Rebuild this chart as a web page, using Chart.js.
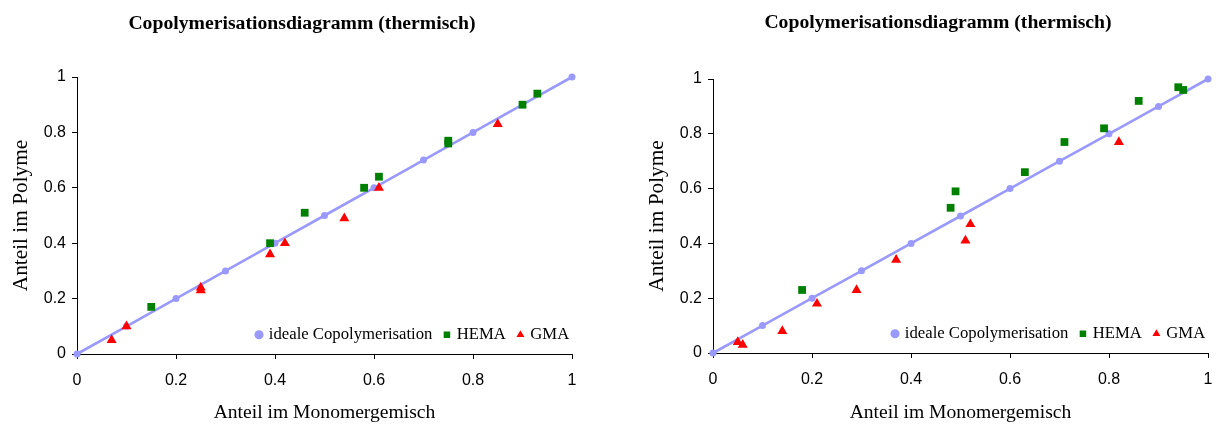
<!DOCTYPE html>
<html>
<head>
<meta charset="utf-8">
<script src="https://cdn.jsdelivr.net/npm/chart.js"></script>
<style>
  html, body { margin: 0; padding: 0; background: #fff; overflow: hidden; }
  body { width: 1217px; height: 425px; position: relative; }
  .box { position: absolute; top: 0; width: 604px; height: 425px; }
</style>
</head>
<body>
<div class="box" style="left:0"><canvas id="chartLeft"></canvas></div>
<div class="box" style="left:636px"><canvas id="chartRight"></canvas></div>

<script>
  // Texte
  var titleText = 'Copolymerisationsdiagramm (thermisch)';
  var xTitle = 'Anteil im Monomergemisch';
  var yTitle = 'Anteil im Polyme';
  var seriesNames = ['ideale Copolymerisation', 'HEMA', 'GMA'];
  var tickValues = [0, 0.2, 0.4, 0.6, 0.8, 1];

  // ideale Copolymerisation (Diagonale)
  var idealX = [0, 0.1, 0.2, 0.3, 0.4, 0.5, 0.6, 0.7, 0.8, 0.9, 1];
  var idealY = [0, 0.1, 0.2, 0.3, 0.4, 0.5, 0.6, 0.7, 0.8, 0.9, 1];

  // linkes Diagramm
  var hemaX1 = [0.15, 0.39, 0.46, 0.58, 0.61, 0.75, 0.75, 0.90, 0.93];
  var hemaY1 = [0.17, 0.40, 0.51, 0.60, 0.64, 0.77, 0.76, 0.90, 0.94];
  var gmaX1 = [0.07, 0.10, 0.25, 0.25, 0.39, 0.42, 0.54, 0.61, 0.85];
  var gmaY1 = [0.05, 0.10, 0.23, 0.24, 0.36, 0.40, 0.49, 0.60, 0.83];

  // rechtes Diagramm
  var hemaX2 = [0.18, 0.48, 0.49, 0.63, 0.71, 0.79, 0.86, 0.94, 0.95];
  var hemaY2 = [0.23, 0.53, 0.59, 0.66, 0.77, 0.82, 0.92, 0.97, 0.96];
  var gmaX2 = [0.05, 0.06, 0.14, 0.21, 0.29, 0.37, 0.51, 0.52, 0.82];
  var gmaY2 = [0.04, 0.03, 0.08, 0.18, 0.23, 0.34, 0.41, 0.47, 0.77];

  function pts(xs, ys) {
    return xs.map(function (x, i) { return { x: x, y: ys[i] }; });
  }

  // Legende in die Zeichenfläche (unten rechts), Titel über die ganze Breite zentrieren
  var legendInPlot = {
    id: 'legendInPlot',
    beforeLayout: function (chart) {
      var lg = chart.legend;
      if (lg && !lg._inPlot) {
        var fit = lg.fit;
        lg.fit = function () { fit.call(this); this.height = 0; };
        lg._inPlot = true;
      }
    },
    afterLayout: function (chart) {
      var lg = chart.legend, a = chart.chartArea;
      lg.left = a.left + 167.5;
      lg.right = lg.left + 420;
      lg.width = 420;
      lg.top = a.bottom - 40.6;
      lg.bottom = a.bottom;
      lg.height = 40.6;
      var t = chart.titleBlock;
      t.left = 0;
      t.right = chart.width;
      t.width = chart.width;
    }
  };

  function makeChart(id, hemaX, hemaY, gmaX, gmaY, plotTop, plotBottom, titleMid) {
    var ctx = document.getElementById(id).getContext('2d');
    var axisFont = { family: 'Liberation Serif', size: 19.6 };
    var yAxisFont = { family: 'Liberation Serif', size: 21.3 };
    var tickFont = { family: 'Liberation Sans', size: 16 };

    function axis(title, isX) {
      return {
        type: 'linear',
        min: 0,
        max: 1,
        afterBuildTicks: function (s) {
          s.ticks = tickValues.map(function (v) { return { value: v }; });
        },
        afterFit: function (s) {
          if (isX) s.height = 425 - plotBottom;
          else s.width = 77;
        },
        ticks: {
          color: '#000',
          font: tickFont,
          padding: isX ? 12.4 : 6,
          maxRotation: 0,
          callback: function (v) { return String(v); }
        },
        grid: { drawOnChartArea: false, drawTicks: true, tickLength: 5, color: '#000' },
        border: { color: '#000', width: 1 },
        title: {
          display: true,
          text: title,
          color: '#000',
          font: isX ? axisFont : yAxisFont,
          padding: isX ? { top: 0, bottom: 0.7 } : { top: 8.2, bottom: 0 }
        }
      };
    }

    var titleLh = 19.7 * 1.2;

    return new Chart(ctx, {
      type: 'scatter',
      data: {
        datasets: [
          {
            label: seriesNames[0],
            data: pts(idealX, idealY),
            showLine: true,
            borderColor: '#9999FF',
            backgroundColor: '#9999FF',
            borderWidth: 2.6,
            pointRadius: 3.5,
            pointBorderWidth: 0,
            pointStyle: 'circle',
            clip: false,
            order: 3
          },
          {
            label: seriesNames[1],
            data: pts(hemaX, hemaY),
            backgroundColor: '#008000',
            borderColor: '#008000',
            pointRadius: 5.5,
            pointBorderWidth: 0,
            pointStyle: 'rect',
            clip: false,
            order: 2
          },
          {
            label: seriesNames[2],
            data: pts(gmaX, gmaY),
            backgroundColor: '#FF0000',
            borderColor: '#FF0000',
            pointRadius: 5.8,
            pointBorderWidth: 0,
            pointStyle: 'triangle',
            clip: false,
            order: 1
          }
        ]
      },
      options: {
        responsive: true,
        maintainAspectRatio: false,
        animation: false,
        events: [],
        layout: { padding: { left: 0, right: 32, top: 0, bottom: 0 } },
        scales: {
          x: axis(xTitle, true),
          y: axis(yTitle, false)
        },
        plugins: {
          title: {
            display: true,
            text: titleText,
            color: '#000',
            font: { family: 'Liberation Serif', size: 19.7, weight: 'bold' },
            padding: { top: titleMid - titleLh / 2, bottom: plotTop - titleMid - titleLh / 2 }
          },
          legend: {
            display: true,
            position: 'bottom',
            align: 'start',
            labels: {
              usePointStyle: true,
              boxHeight: 6.5,
              boxWidth: 3,
              padding: 13,
              color: '#000',
              font: { family: 'Liberation Serif', size: 16.7 },
              sort: function (a, b) { return a.datasetIndex - b.datasetIndex; }
            }
          },
          tooltip: { enabled: false }
        }
      },
      plugins: [legendInPlot]
    });
  }

  makeChart('chartLeft', hemaX1, hemaY1, gmaX1, gmaY1, 77, 354, 24);
  makeChart('chartRight', hemaX2, hemaY2, gmaX2, gmaY2, 79, 353, 22.5);
</script>
</body>
</html>
